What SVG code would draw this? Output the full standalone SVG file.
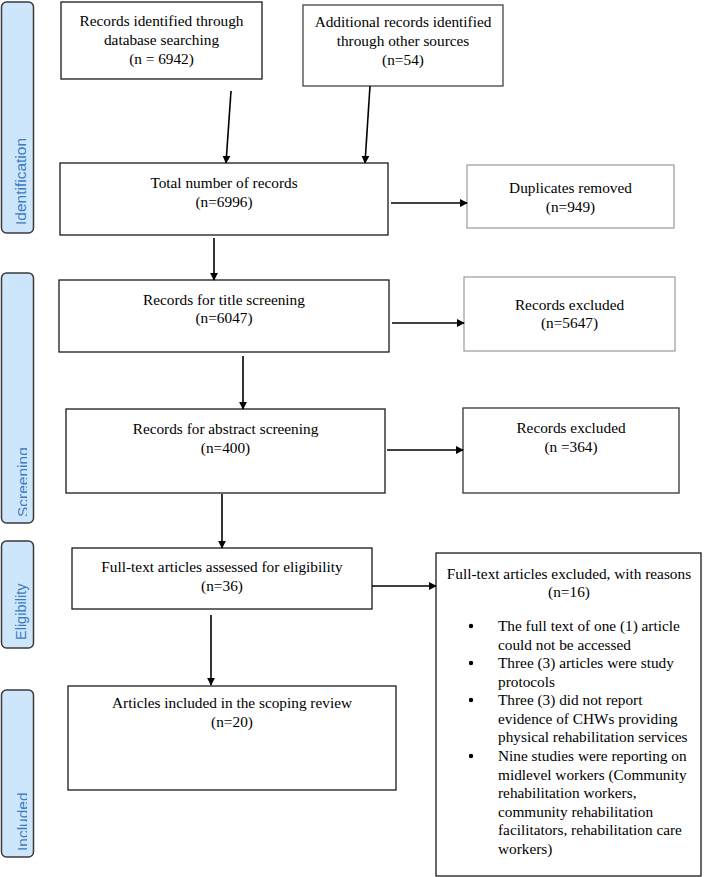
<svg xmlns="http://www.w3.org/2000/svg" width="704" height="877" viewBox="0 0 704 877">
<style>
.bx{fill:#fff;stroke:#1a1a1a;stroke-width:1.3}
.gb{fill:#fff;stroke:#9a9a9a;stroke-width:1.2}
.t{font-family:"Liberation Serif","Times New Roman",serif;font-size:15.3px;fill:#000;text-anchor:middle}
.tl{font-family:"Liberation Serif","Times New Roman",serif;font-size:15.3px;fill:#000}
.side{fill:#cde6fb;stroke:#3a3a3a;stroke-width:1.5}
.st{font-family:"Liberation Sans",Arial,sans-serif;font-size:15.5px;fill:#3b7cc4}
.ln{stroke:#000;stroke-width:1.6;fill:none;marker-end:url(#ah)}
</style>
<defs>
<marker id="ah" viewBox="0 0 10 10" refX="9" refY="5" markerWidth="5" markerHeight="5" orient="auto" markerUnits="strokeWidth">
<path d="M0,0 L10,5 L0,10 z" fill="#000"/>
</marker>
<clipPath id="sc"><rect x="0" y="270" width="27" height="260"/></clipPath>
<clipPath id="ic"><rect x="0" y="685" width="27" height="180"/></clipPath>
</defs>

<g id="side-identification">
<rect class="side" x="1.5" y="2" width="32" height="231" rx="5"/>
<text class="st" transform="translate(26,225) rotate(-90)">Identification</text>
</g>
<g id="side-screening">
<rect class="side" x="1.5" y="273" width="32" height="250" rx="5"/>
<g clip-path="url(#sc)">
<text class="st" transform="translate(28,517) rotate(-90)">Screening</text>
</g>
</g>
<g id="side-eligibility">
<rect class="side" x="1.5" y="541" width="32" height="107" rx="5"/>
<text class="st" style="font-size:14.5px" transform="translate(26,640) rotate(-90)">Eligibility</text>
</g>
<g id="side-included">
<rect class="side" x="1.5" y="690" width="32" height="167" rx="5"/>
<g clip-path="url(#ic)">
<text class="st" transform="translate(28,851) rotate(-90)">Included</text>
</g>
</g>

<g id="n1">
<rect class="bx" x="61" y="2" width="201" height="77"/>
<text class="t" x="161.5" y="26">Records identified through</text>
<text class="t" x="161.5" y="45">database searching</text>
<text class="t" x="161.5" y="64">(n = 6942)</text>
</g>
<g id="n2">
<rect class="bx" x="303" y="5" width="200" height="81" style="stroke:#444"/>
<text class="t" x="403" y="27">Additional records identified</text>
<text class="t" x="403" y="46">through other sources</text>
<text class="t" x="403" y="65">(n=54)</text>
</g>
<g id="n3">
<rect class="bx" x="60" y="163" width="328" height="72"/>
<text class="t" x="224" y="188">Total number of records</text>
<text class="t" x="224" y="207">(n=6996)</text>
</g>
<g id="n4">
<rect class="gb" x="467" y="165" width="207" height="63"/>
<text class="t" x="570.5" y="193">Duplicates removed</text>
<text class="t" x="570.5" y="212">(n=949)</text>
</g>
<g id="n5">
<rect class="bx" x="59" y="280" width="330" height="72"/>
<text class="t" x="224" y="305">Records for title screening</text>
<text class="t" x="224" y="323">(n=6047)</text>
</g>
<g id="n6">
<rect class="gb" x="464" y="277" width="211" height="74"/>
<text class="t" x="569.5" y="310">Records excluded</text>
<text class="t" x="569.5" y="328">(n=5647)</text>
</g>
<g id="n7">
<rect class="bx" x="66" y="409" width="319" height="84"/>
<text class="t" x="225.5" y="434">Records for abstract screening</text>
<text class="t" x="225.5" y="453">(n=400)</text>
</g>
<g id="n8">
<rect class="bx" x="463" y="408" width="216" height="85" style="stroke:#333"/>
<text class="t" x="571" y="433">Records excluded</text>
<text class="t" x="571" y="452">(n =364)</text>
</g>
<g id="n9">
<rect class="bx" x="72" y="548" width="300" height="61"/>
<text class="t" x="222" y="572">Full-text articles assessed for eligibility</text>
<text class="t" x="222" y="591">(n=36)</text>
</g>
<g id="n10">
<rect class="bx" x="436" y="553" width="265" height="323"/>
<text class="t" x="569" y="579">Full-text articles excluded, with reasons</text>
<text class="t" x="569" y="597">(n=16)</text>
<g class="tl">
<circle cx="471" cy="626" r="2.2" fill="#000"/>
<text x="498" y="631">The full text of one (1) article</text>
<text x="498" y="649.5">could not be accessed</text>
<circle cx="471" cy="663" r="2.2" fill="#000"/>
<text x="498" y="668">Three (3) articles were study</text>
<text x="498" y="686.5">protocols</text>
<circle cx="471" cy="700" r="2.2" fill="#000"/>
<text x="498" y="705">Three (3) did not report</text>
<text x="498" y="723.5">evidence of CHWs providing</text>
<text x="498" y="742">physical rehabilitation services</text>
<circle cx="471" cy="756" r="2.2" fill="#000"/>
<text x="498" y="761">Nine studies were reporting on</text>
<text x="498" y="779.5">midlevel workers (Community</text>
<text x="498" y="798">rehabilitation workers,</text>
<text x="498" y="816.5">community rehabilitation</text>
<text x="498" y="835">facilitators, rehabilitation care</text>
<text x="498" y="853.5">workers)</text>
</g>
</g>
<g id="n11">
<rect class="bx" x="68" y="686" width="328" height="104"/>
<text class="t" x="232" y="708">Articles included in the scoping review</text>
<text class="t" x="232" y="727">(n=20)</text>
</g>

<g id="connectors">
<line class="ln" x1="231" y1="91" x2="226" y2="163"/>
<line class="ln" x1="370" y1="86" x2="365" y2="163"/>
<line class="ln" x1="391" y1="203" x2="467" y2="203"/>
<line class="ln" x1="214" y1="238" x2="214" y2="280"/>
<line class="ln" x1="392" y1="323" x2="464" y2="323"/>
<line class="ln" x1="243" y1="356" x2="243" y2="409"/>
<line class="ln" x1="387" y1="450" x2="463" y2="450"/>
<line class="ln" x1="222" y1="494" x2="222" y2="548"/>
<line class="ln" x1="372" y1="586" x2="436" y2="586"/>
<line class="ln" x1="211" y1="615" x2="211" y2="685"/>
</g>
</svg>
